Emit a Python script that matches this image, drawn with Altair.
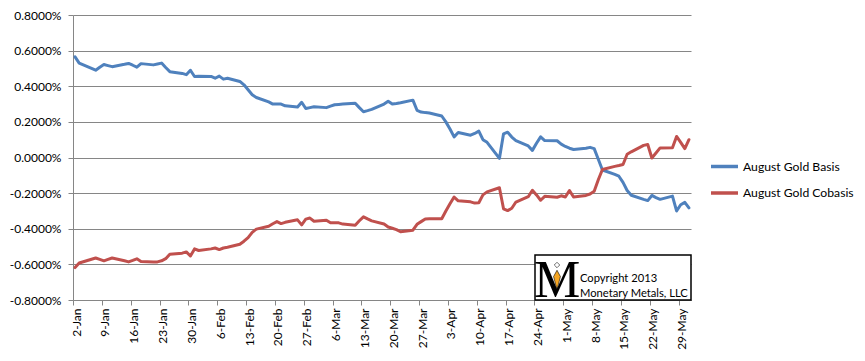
import altair as alt
import pandas as pd

# ---- data (percent units), one value per weekday, 2 Jan 2013 .. 31 May 2013 ----
dates = pd.bdate_range("2013-01-02", "2013-05-31")

basis = [
    0.565, 0.53, 0.52,
    0.49, 0.507, 0.522, 0.516, 0.51,
    0.523, 0.528, 0.518, 0.507, 0.527,
    0.52, 0.525, 0.53, 0.505, 0.482,
    0.472, 0.465, 0.49, 0.455, 0.456,
    0.455, 0.445, 0.457, 0.44, 0.445,
    0.427, 0.408, 0.38, 0.352, 0.337,
    0.312, 0.30, 0.30, 0.30, 0.29,
    0.283, 0.31, 0.275, 0.28, 0.285,
    0.28, 0.288, 0.296, 0.298, 0.30,
    0.305, 0.28, 0.257, 0.263, 0.27,
    0.30, 0.316, 0.30, 0.303, 0.307,
    0.322, 0.265, 0.255, 0.252, 0.25,
    0.233, 0.20, 0.16, 0.116, 0.14,
    0.125, 0.135, 0.148, 0.10, 0.085,
    -0.005, 0.133, 0.142, 0.115, 0.095,
    0.065, 0.04, 0.08, 0.116, 0.095,
    0.094, 0.075, 0.062, 0.052, 0.045,
    0.052, 0.057, 0.05, -0.01, -0.07,
    -0.095, -0.105, -0.14, -0.185, -0.212,
    -0.235, -0.242, -0.213, -0.225, -0.235,
    -0.217, -0.30, -0.265, -0.252, -0.283,
]

cobasis = [
    -0.618, -0.592, -0.585,
    -0.564, -0.572, -0.58, -0.572, -0.564,
    -0.58, -0.586, -0.578, -0.569, -0.584,
    -0.586, -0.586, -0.58, -0.568, -0.543,
    -0.537, -0.53, -0.553, -0.513, -0.522,
    -0.513, -0.508, -0.517, -0.508, -0.504,
    -0.487, -0.47, -0.45, -0.42, -0.402,
    -0.386, -0.372, -0.36, -0.371, -0.364,
    -0.35, -0.378, -0.346, -0.34, -0.358,
    -0.352, -0.366, -0.367, -0.367, -0.374,
    -0.38, -0.355, -0.333, -0.345, -0.356,
    -0.373, -0.39, -0.397, -0.405, -0.417,
    -0.408, -0.375, -0.36, -0.345, -0.344,
    -0.344, -0.30, -0.26, -0.222, -0.243,
    -0.249, -0.256, -0.254, -0.21, -0.193,
    -0.17, -0.288, -0.298, -0.285, -0.25,
    -0.22, -0.184, -0.21, -0.24, -0.218,
    -0.223, -0.215, -0.222, -0.185, -0.222,
    -0.213, -0.205, -0.19, -0.125, -0.067,
    -0.05, -0.045, -0.039, 0.018, 0.032,
    0.068, 0.073, -0.003, 0.025, 0.054,
    0.055, 0.118, 0.085, 0.05, 0.10,
]

series_names = ["August Gold Basis", "August Gold Cobasis"]
series_colors = ["#4F81BD", "#C0504D"]
y_ticks = [-0.8, -0.6, -0.4, -0.2, 0.0, 0.2, 0.4, 0.6, 0.8]
x_ticks = pd.date_range("2013-01-02", periods=22, freq="7D")
copyright_lines = ["Copyright 2013", "Monetary Metals, LLC"]

# ---- build table ----
# Excel date axis plots each day in the middle of its day slot
stamps = [(d + pd.Timedelta(hours=12)).strftime("%Y-%m-%dT%H:%M:%S") for d in dates]
df = pd.DataFrame({
    "date": stamps * 2,
    "value": basis + cobasis,
    "series": [series_names[0]] * len(dates) + [series_names[1]] * len(dates),
})

FONT = "Lato"
GRID = "#868686"

tick_dt = [alt.DateTime(year=d.year, month=d.month, date=d.day) for d in x_ticks]

lines = alt.Chart(df).mark_line(strokeWidth=3, strokeJoin="round", strokeCap="round").encode(
    x=alt.X(
        "date:T",
        scale=alt.Scale(domain=[alt.DateTime(year=2013, month=1, date=2),
                                alt.DateTime(year=2013, month=6, date=1)]),
        axis=alt.Axis(
            values=tick_dt, format="%-d-%b", labelAngle=270, title=None, grid=False,
            domainColor=GRID, tickColor=GRID, tickSize=5, labelPadding=3,
            labelFont=FONT, labelFontSize=12, labelColor="#000000", labelOffset=3,
            labelFlush=False, labelOverlap=False,
        ),
    ),
    y=alt.Y(
        "value:Q",
        scale=alt.Scale(domain=[-0.8, 0.8], nice=False, zero=False),
        axis=alt.Axis(
            values=y_ticks, title=None, grid=True, gridColor=GRID, gridWidth=1,
            domainColor=GRID, tickColor=GRID, tickSize=5, labelPadding=7,
            labelFont=FONT, labelFontSize=12, labelColor="#000000",
            labelExpr="(datum.value < -0.00001 ? '-' : '') + format(abs(datum.value), '.4f') + '%'",
            labelFlush=False, labelOverlap=False,
        ),
    ),
    color=alt.Color(
        "series:N",
        scale=alt.Scale(domain=series_names, range=series_colors),
        legend=alt.Legend(
            title=None, orient="none", legendX=636, legendY=136,
            symbolType="stroke", symbolSize=729, symbolStrokeWidth=3.5,
            labelFont=FONT, labelFontSize=12.2, labelColor="#000000",
            labelOffset=3, rowPadding=3.5, labelLimit=0,
        ),
    ),
)

box = alt.Chart(pd.DataFrame({"k": [0]})).mark_rect(
    fill="white", stroke="black", strokeWidth=1.5
).encode(x=alt.value(462), x2=alt.value(618), y=alt.value(240), y2=alt.value(285))

logo_m = alt.Chart(pd.DataFrame({"t": ["M"]})).mark_text(
    font="Liberation Serif", fontSize=52, align="center", baseline="alphabetic", color="black"
).encode(text="t:N", x=alt.value(484), y=alt.value(282))

gem = alt.Chart(pd.DataFrame({"k": [0]})).mark_point(
    shape="M0,-1L0.35,-0.35L0,1L-0.35,-0.35Z", filled=True, fill="#F5A623",
    stroke="black", strokeWidth=0.6, size=380, opacity=1
).encode(x=alt.value(484), y=alt.value(265))

gem_top = alt.Chart(pd.DataFrame({"k": [0]})).mark_point(
    shape="diamond", filled=False, stroke="black", strokeWidth=0.8, size=30
).encode(x=alt.value(484), y=alt.value(250))

txt1 = alt.Chart(pd.DataFrame({"t": [copyright_lines[0]]})).mark_text(
    font=FONT, fontSize=11.2, align="left", baseline="alphabetic", color="black"
).encode(text="t:N", x=alt.value(507), y=alt.value(267))

txt2 = alt.Chart(pd.DataFrame({"t": [copyright_lines[1]]})).mark_text(
    font=FONT, fontSize=11.2, align="left", baseline="alphabetic", color="black"
).encode(text="t:N", x=alt.value(507), y=alt.value(282))

chart = alt.layer(lines, box, gem, logo_m, gem_top, txt1, txt2).properties(
    width=618, height=285,
    autosize=alt.AutoSizeParams(type="none"),
    padding={"left": 65, "top": 7, "right": 849 - 65 - 618, "bottom": 345 - 7 - 285},
).configure_view(strokeWidth=0)

chart.save("out.html", embed_options={"renderer": "svg", "actions": False})
